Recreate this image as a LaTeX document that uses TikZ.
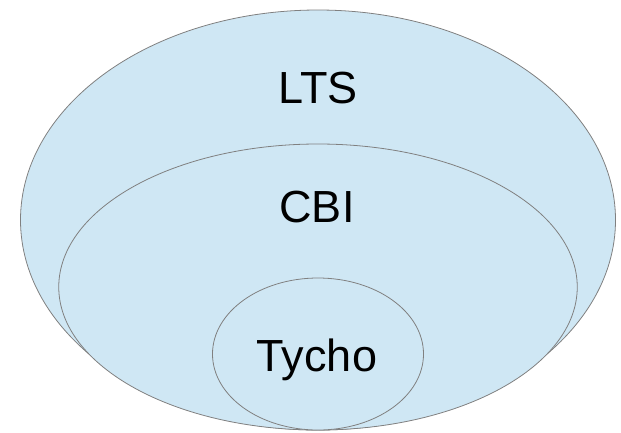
\documentclass[tikz,border=0pt]{standalone}
\usepackage{fontspec}
\setmainfont{Liberation Sans}
\usetikzlibrary{positioning,shapes.geometric}
\definecolor{setblue}{RGB}{207, 231, 244}
\definecolor{setline}{RGB}{128, 128, 128}
\tikzstyle{set}=[draw=setline,fill=setblue,ellipse,inner sep=0pt,line width=0.8pt]
\tikzstyle{setname}=[anchor=base,inner sep=0pt,font=\fontsize{45}{54}\selectfont]

\begin{document}
\begin{tikzpicture}[x=1pt,y=-1pt]
      \useasboundingbox (0,0) rectangle (621,432);
      \node (lts) at (318,220) [set, minimum width=595pt, minimum height=420pt] {};
      \node (cbi) at (318,287) [set, minimum width=518.5pt, minimum height=286pt] {};
      \node (tycho) at (318,354) [set, minimum width=211pt, minimum height=152pt] {};

      \node (ltsname) at (318,103) [setname] {LTS};
      \node (cbiname) at (317,222.5) [setname] {CBI};
      \node (tychoname) at (317,371.5) [setname] {Tycho};
    \end{tikzpicture}
\end{document}
